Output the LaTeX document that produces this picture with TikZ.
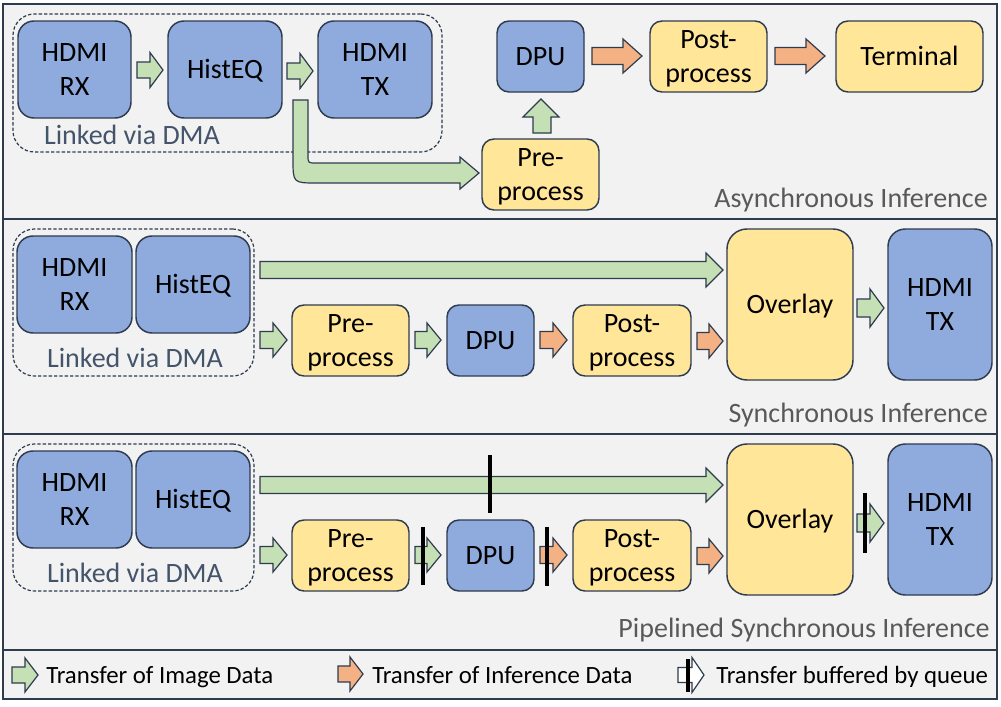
\documentclass[tikz,border=0pt]{standalone}
\usepackage{fontspec}
\setmainfont{Carlito}
\usetikzlibrary{fit}
\definecolor{bg}{HTML}{F2F2F2}
\definecolor{edge}{HTML}{2F3B4F}
\definecolor{bluef}{HTML}{8FAADC}
\definecolor{yellowf}{HTML}{FFE699}
\definecolor{greenf}{HTML}{C5E0B4}
\definecolor{orangef}{HTML}{F4B183}
\definecolor{titlec}{HTML}{595959}
\definecolor{dmac}{HTML}{44546A}
\newcommand\onel[1]{\raisebox{-1.5pt}[\height][\depth]{\begin{tabular}{@{}c@{}}#1\end{tabular}}}
\newcommand\twol[2]{\raisebox{-1.5pt}[\height][\depth]{\begin{tabular}{@{}c@{}}#1\\#2\end{tabular}}}
\tikzset{
 box/.style={draw=edge, line width=1.1pt, inner sep=0pt, font=\fontsize{21}{26}\selectfont},
 bluebox/.style={box, fill=bluef},
 yellowbox/.style={box, fill=yellowf},
 boxat/.style n args={4}{minimum width={((#3)-(#1))*0.75pt}, minimum height={((#4)-(#2))*0.75pt}, at={({((#1)+(#3))/2},{((#2)+(#4))/2})}},
 garrow/.style={draw=edge, line width=0.9pt, fill=greenf, line join=miter},
 oarrow/.style={draw=edge, line width=0.9pt, fill=orangef, line join=miter},
 qarrow/.style={draw=edge, line width=0.9pt, fill=white, line join=miter},
 qbar/.style={draw=black, line width=3pt},
 dmabox/.style={draw=edge, line width=0.9pt, dash pattern=on 2.5pt off 1.5pt, inner sep=0pt, rounded corners=16pt},
 dmatext/.style={text=dmac, inner sep=0pt, anchor=base, font=\fontsize{21}{26}\selectfont},
 titletext/.style={text=titlec, inner sep=0pt, anchor=base east, font=\fontsize{21}{26}\selectfont},
 legendtext/.style={text=black, inner sep=0pt, anchor=base west, font=\fontsize{18.6}{22}\selectfont},
 frame/.style={draw=edge, line width=1.2pt},
}
% style, x1, x2, yc, shaft half, head half, head length
\newcommand\blockarrow[7]{\filldraw[#1] ({#2},{(#4)-(#5)}) -- ({(#3)-(#7)},{(#4)-(#5)}) -- ({(#3)-(#7)},{(#4)-(#6)}) -- ({#3},{#4}) -- ({(#3)-(#7)},{(#4)+(#6)}) -- ({(#3)-(#7)},{(#4)+(#5)}) -- ({#2},{(#4)+(#5)}) -- cycle;}
% offset, suffix
\newcommand\syncpanel[2]{%
 \node[dmabox, fit={(13,{229+#1})(254,{376+#1})}] (dma#2) {};
 \node[bluebox, rounded corners=12pt, boxat={17}{236+#1}{132}{333+#1}] (rx#2) {\twol{HDMI}{RX}};
 \node[bluebox, rounded corners=12pt, boxat={136}{236+#1}{250}{333+#1}] (heq#2) {\onel{HistEQ}};
 \node[dmatext] (dmal#2) at (135,{367+#1}) {Linked via DMA};
 \node[yellowbox, rounded corners=9pt, boxat={292}{305+#1}{409}{376+#1}] (pre#2) {\twol{Pre-}{process}};
 \node[bluebox, rounded corners=9pt, boxat={447}{305+#1}{534}{376+#1}] (dpu#2) {\onel{DPU}};
 \node[yellowbox, rounded corners=9pt, boxat={573}{305+#1}{691}{376+#1}] (post#2) {\twol{Post-}{process}};
 \node[yellowbox, rounded corners=15pt, boxat={727}{229+#1}{853}{380+#1}] (ovl#2) {\onel{Overlay}};
 \node[bluebox, rounded corners=13pt, boxat={888}{229+#1}{992}{380+#1}] (tx#2) {\twol{HDMI}{TX}};
 \blockarrow{garrow}{260}{723}{270+#1}{8.5}{17}{17}
 \blockarrow{garrow}{260}{287}{340+#1}{8.5}{17}{14}
 \blockarrow{garrow}{415}{441}{340+#1}{8.5}{17}{14}
 \blockarrow{oarrow}{540}{567}{340+#1}{8.5}{17}{14}
 \blockarrow{oarrow}{697}{723}{341+#1}{8.5}{17}{14}
 \blockarrow{garrow}{857}{884}{308+#1}{9}{19}{14}
}
\begin{document}
\begin{tikzpicture}[x=0.75pt,y=-0.75pt]
\useasboundingbox (0,0) rectangle (1001,707);
\fill[white] (0,0) rectangle (1001,707);
\filldraw[frame, fill=bg] (3,4) rectangle (997,699);
\draw[frame] (3,219) -- (997,219);
\draw[frame] (3,434) -- (997,434);
\draw[frame] (3,650) -- (997,650);

% ---------- Panel 1: asynchronous ----------
\node[dmabox, fit={(13,14)(442,152)}] (dmaA) {};
\node[bluebox, rounded corners=12pt, boxat={18}{21}{131}{118}] (rxA) {\twol{HDMI}{RX}};
\node[bluebox, rounded corners=12pt, boxat={168}{21}{282}{118}] (heqA) {\onel{HistEQ}};
\node[bluebox, rounded corners=12pt, boxat={318}{21}{432}{118}] (txA) {\twol{HDMI}{TX}};
\node[dmatext] (dmalA) at (132,144) {Linked via DMA};
\blockarrow{garrow}{137}{163}{70}{8}{17.5}{13}
\blockarrow{garrow}{287}{313}{71}{8}{17.5}{13}
\node[bluebox, rounded corners=9pt, boxat={497}{21}{584}{92}] (dpuA) {\onel{DPU}};
\node[yellowbox, rounded corners=9pt, boxat={482}{139}{599}{210}] (preA) {\twol{Pre-}{process}};
\node[yellowbox, rounded corners=9pt, boxat={650}{21}{767}{92}] (postA) {\twol{Post-}{process}};
\node[yellowbox, rounded corners=9pt, boxat={836}{21}{983}{92}] (termA) {\onel{Terminal}};
\blockarrow{oarrow}{592}{642}{56}{8.5}{17}{19}
\blockarrow{oarrow}{775}{825}{56}{8.5}{17}{19}
% up arrow pre -> dpu
\filldraw[garrow] (533,133) -- (533,117) -- (523,117) -- (541,99) -- (559,117) -- (551,117) -- (551,133) -- cycle;
% bent arrow histeq -> pre
\filldraw[garrow] (293,100) -- (308,100) -- (308,155) .. controls (308,163) .. (316,163) -- (460,163) -- (460,157) -- (479,173) -- (460,189) -- (460,183) -- (317,183) .. controls (293,183) .. (293,159) -- cycle;
\node[titletext] (titleA) at (988,207) {Asynchronous Inference};

% ---------- Panel 2: synchronous ----------
\syncpanel{0}{B}
\node[titletext] (titleB) at (988,422) {Synchronous Inference};

% ---------- Panel 3: pipelined ----------
\syncpanel{215}{C}
\draw[qbar] (490,455) -- (490,513);
\draw[qbar] (423,527) -- (423,585);
\draw[qbar] (547,527) -- (547,586);
\draw[qbar] (865,493) -- (865,553);
\node[titletext] (titleC) at (990,637) {Pipelined Synchronous Inference};

% ---------- Legend ----------
\blockarrow{garrow}{12}{38}{675}{8}{17}{13}
\node[legendtext] (lg1) at (46,683) {Transfer of Image Data};
\blockarrow{oarrow}{338}{363}{674}{8}{17}{13}
\node[legendtext] (lg2) at (372,683) {Transfer of Inference Data};
\blockarrow{qarrow}{678}{704}{675}{7.5}{17.5}{12}
\draw[qbar] (688,659) -- (688,692);
\node[legendtext] (lg3) at (716,683) {Transfer buffered by queue};
\end{tikzpicture}
\end{document}
